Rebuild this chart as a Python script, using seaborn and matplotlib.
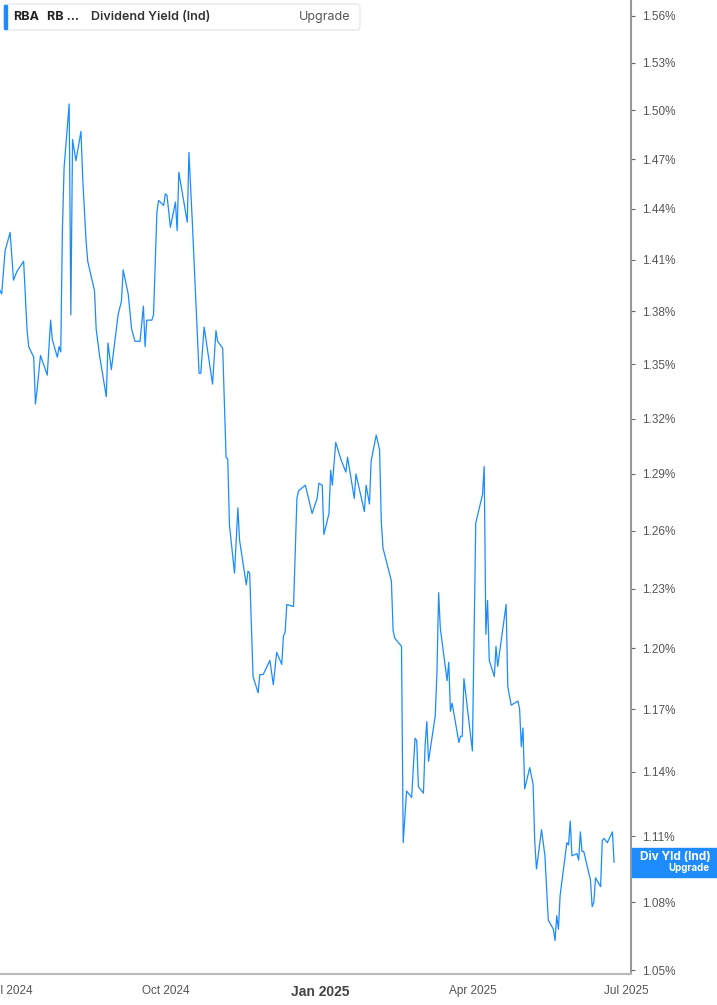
import pandas as pd
import seaborn as sns
import matplotlib.pyplot as plt
from matplotlib.patches import FancyBboxPatch, Rectangle
from matplotlib.ticker import FixedLocator, FuncFormatter, NullLocator

# daily indicated dividend yield (%)
dates = [
    "2024-06-25", "2024-06-26", "2024-06-28", "2024-07-01", "2024-07-03", "2024-07-05", "2024-07-09",
    "2024-07-11", "2024-07-12", "2024-07-15", "2024-07-16", "2024-07-17", "2024-07-19", "2024-07-23",
    "2024-07-25", "2024-07-26", "2024-07-29", "2024-07-30", "2024-07-31", "2024-08-01", "2024-08-02",
    "2024-08-05", "2024-08-06", "2024-08-07", "2024-08-09", "2024-08-12", "2024-08-13", "2024-08-15",
    "2024-08-16", "2024-08-20", "2024-08-21", "2024-08-23", "2024-08-27", "2024-08-28", "2024-08-30",
    "2024-09-03", "2024-09-05", "2024-09-06", "2024-09-09", "2024-09-11", "2024-09-13", "2024-09-16",
    "2024-09-18", "2024-09-19", "2024-09-20", "2024-09-23", "2024-09-24", "2024-09-26", "2024-09-27",
    "2024-09-30", "2024-10-01", "2024-10-02", "2024-10-04", "2024-10-07", "2024-10-08", "2024-10-09",
    "2024-10-14", "2024-10-15", "2024-10-17", "2024-10-21", "2024-10-22", "2024-10-24", "2024-10-29",
    "2024-10-31", "2024-11-01", "2024-11-04", "2024-11-06", "2024-11-07", "2024-11-08", "2024-11-11",
    "2024-11-13", "2024-11-14", "2024-11-18", "2024-11-19", "2024-11-20", "2024-11-22", "2024-11-25",
    "2024-11-26", "2024-11-28", "2024-12-02", "2024-12-04", "2024-12-06", "2024-12-09", "2024-12-10",
    "2024-12-11", "2024-12-12", "2024-12-16", "2024-12-18", "2024-12-19", "2024-12-23", "2024-12-27",
    "2024-12-30", "2024-12-31", "2025-01-02", "2025-01-03", "2025-01-06", "2025-01-07", "2025-01-08",
    "2025-01-10", "2025-01-13", "2025-01-16", "2025-01-17", "2025-01-21", "2025-01-22", "2025-01-27",
    "2025-01-28", "2025-01-30", "2025-01-31", "2025-02-03", "2025-02-05", "2025-02-06", "2025-02-07",
    "2025-02-12", "2025-02-13", "2025-02-14", "2025-02-18", "2025-02-19", "2025-02-21", "2025-02-24",
    "2025-02-26", "2025-02-27", "2025-02-28", "2025-03-03", "2025-03-04", "2025-03-05", "2025-03-06",
    "2025-03-10", "2025-03-11", "2025-03-12", "2025-03-13", "2025-03-17", "2025-03-18", "2025-03-19",
    "2025-03-20", "2025-03-24", "2025-03-25", "2025-03-26", "2025-03-27", "2025-03-31", "2025-04-01",
    "2025-04-03", "2025-04-07", "2025-04-08", "2025-04-09", "2025-04-10", "2025-04-11", "2025-04-14",
    "2025-04-15", "2025-04-16", "2025-04-21", "2025-04-22", "2025-04-24", "2025-04-28", "2025-04-29",
    "2025-04-30", "2025-05-01", "2025-05-02", "2025-05-05", "2025-05-07", "2025-05-08", "2025-05-09",
    "2025-05-12", "2025-05-14", "2025-05-16", "2025-05-19", "2025-05-20", "2025-05-21", "2025-05-22",
    "2025-05-23", "2025-05-27", "2025-05-28", "2025-05-29", "2025-05-30", "2025-06-02", "2025-06-03",
    "2025-06-04", "2025-06-05", "2025-06-06", "2025-06-10", "2025-06-11", "2025-06-12", "2025-06-13",
    "2025-06-16", "2025-06-17", "2025-06-18", "2025-06-20", "2025-06-23", "2025-06-24",
]
div_yield = [
    1.392, 1.390, 1.415, 1.426, 1.398, 1.403, 1.409,
    1.370, 1.360, 1.354, 1.328, 1.336, 1.355, 1.344,
    1.375, 1.364, 1.354, 1.360, 1.357, 1.428, 1.465,
    1.504, 1.378, 1.482, 1.469, 1.487, 1.459, 1.421,
    1.409, 1.392, 1.370, 1.355, 1.332, 1.362, 1.347,
    1.378, 1.386, 1.404, 1.390, 1.370, 1.363, 1.363,
    1.383, 1.360, 1.375, 1.375, 1.378, 1.438, 1.445,
    1.442, 1.449, 1.448, 1.429, 1.444, 1.427, 1.462,
    1.432, 1.474, 1.432, 1.345, 1.345, 1.371, 1.339,
    1.369, 1.363, 1.359, 1.299, 1.298, 1.263, 1.238,
    1.272, 1.255, 1.232, 1.239, 1.238, 1.186, 1.178,
    1.187, 1.187, 1.194, 1.182, 1.198, 1.192, 1.206,
    1.208, 1.222, 1.221, 1.277, 1.281, 1.284, 1.269,
    1.277, 1.285, 1.284, 1.258, 1.269, 1.292, 1.284,
    1.307, 1.298, 1.291, 1.299, 1.277, 1.290, 1.270,
    1.284, 1.274, 1.297, 1.311, 1.303, 1.265, 1.251,
    1.234, 1.209, 1.205, 1.201, 1.107, 1.131, 1.128,
    1.156, 1.155, 1.133, 1.130, 1.153, 1.164, 1.145,
    1.167, 1.188, 1.228, 1.210, 1.184, 1.193, 1.169,
    1.173, 1.154, 1.157, 1.157, 1.185, 1.157, 1.150,
    1.264, 1.279, 1.294, 1.207, 1.224, 1.194, 1.186,
    1.201, 1.191, 1.222, 1.181, 1.172, 1.174, 1.170,
    1.152, 1.161, 1.132, 1.142, 1.134, 1.107, 1.095,
    1.113, 1.101, 1.072, 1.068, 1.063, 1.074, 1.068,
    1.083, 1.107, 1.106, 1.117, 1.101, 1.102, 1.099,
    1.112, 1.103, 1.103, 1.090, 1.078, 1.080, 1.091,
    1.087, 1.108, 1.109, 1.107, 1.112, 1.098,
]

y_ticks = [1.05, 1.08, 1.11, 1.14, 1.17, 1.20, 1.23, 1.26, 1.29,
           1.32, 1.35, 1.38, 1.41, 1.44, 1.47, 1.50, 1.53, 1.56]
x_tick_dates = ["2024-07-01", "2024-10-01", "2025-01-01", "2025-04-01", "2025-07-01"]
x_tick_labels = ["Jul 2024", "Oct 2024", "Jan 2025", "Apr 2025", "Jul 2025"]

LINE_BLUE = "#1a8cff"

sns.set_style("white")
plt.rcParams['font.family'] = ['Liberation Sans', 'DejaVu Sans']

df = pd.DataFrame({"date": pd.to_datetime(dates), "yield": div_yield})

fig = plt.figure(figsize=(7.17, 10.05), dpi=100)
ax = fig.add_axes([0, 0.0308, 0.880, 0.9692])
sns.lineplot(data=df, x="date", y="yield", ax=ax, color=LINE_BLUE, linewidth=0.9)

# log price scale, as in the source chart
ax.set_yscale("log")
ax.set_ylim(1.0483, 1.5703)
ax.set_xlim(pd.Timestamp("2024-06-25"), pd.Timestamp("2025-07-04"))
ax.set_xlabel("")
ax.set_ylabel("")

ax.yaxis.tick_right()
ax.yaxis.set_major_locator(FixedLocator(y_ticks))
ax.yaxis.set_minor_locator(NullLocator())
ax.yaxis.set_major_formatter(FuncFormatter(lambda v, _: f"{v:.2f}%"))
ax.tick_params(axis="y", which="major", direction="out", length=3, width=0.8,
               color="#666666", labelcolor="#555555", labelsize=8.5, pad=5)

ax.set_xticks(pd.to_datetime(x_tick_dates))
ax.set_xticklabels(x_tick_labels)
ax.tick_params(axis="x", direction="out", length=4, width=0.8, color="#aaaaaa",
               labelcolor="#555555", labelsize=8.5, pad=4)
for lbl in ax.get_xticklabels():
    lbl.set_family(['Liberation Sans Narrow', 'Liberation Sans', 'DejaVu Sans'])
    if lbl.get_text() == "Jan 2025":
        lbl.set_fontweight("bold")
        lbl.set_fontsize(10)
        lbl.set_color("#444444")

for side in ["left", "top"]:
    ax.spines[side].set_visible(False)
ax.spines["right"].set_color("#999999")
ax.spines["right"].set_linewidth(1.5)
ax.spines["bottom"].set_color("#bbbbbb")
ax.spines["bottom"].set_linewidth(1.5)
ax.grid(False)

# last value tag on the price axis
W, H = fig.get_size_inches() * fig.dpi
y_last = ax.transData.transform((ax.get_xlim()[0], div_yield[-1]))[1] / H
box_h = 29 / H
fig.patches.append(Rectangle((632 / W, y_last - box_h / 2), (W - 632) / W, box_h,
                             transform=fig.transFigure, color="#1e8cff", zorder=5))
fig.text(675 / W, y_last + 5 / H, "Div Yld (Ind)", color="white", fontsize=8.5,
         fontweight="bold", ha="center", va="center", zorder=6, family=["Inter", "DejaVu Sans"])
fig.text(709 / W, y_last - 6 / H, "Upgrade", color="white", fontsize=7,
         fontweight="bold", ha="right", va="center", zorder=6, family=["Inter", "DejaVu Sans"])

# legend header box, top left
fig.patches.append(FancyBboxPatch((4 / W, 1 - 30 / H), 356 / W, 26 / H,
                                  boxstyle="round,pad=0,rounding_size=0.004",
                                  transform=fig.transFigure, facecolor="white",
                                  edgecolor="#e4e4e4", linewidth=0.8, zorder=5))
fig.patches.append(Rectangle((4 / W, 1 - 29 / H), 3 / W, 24 / H, transform=fig.transFigure,
                             color="#1e8cff", zorder=6))
header_font = ["Inter", "DejaVu Sans"]
y_hdr = 1 - 17 / H
fig.text(13 / W, y_hdr, "RBA", fontsize=9, fontweight="bold", color="#222222",
         va="center", zorder=6, family=header_font)
fig.text(47 / W, y_hdr, "RB …", fontsize=9, fontweight="bold", color="#222222",
         va="center", zorder=6, family=header_font)
fig.text(91 / W, y_hdr, "Dividend Yield (Ind)", fontsize=9, fontweight="semibold",
         color="#333333", va="center", zorder=6, family=header_font)
fig.text(299 / W, y_hdr, "Upgrade", fontsize=9, color="#555555",
         va="center", zorder=6, family=header_font)

plt.savefig("out.png", dpi=100)
plt.close()
